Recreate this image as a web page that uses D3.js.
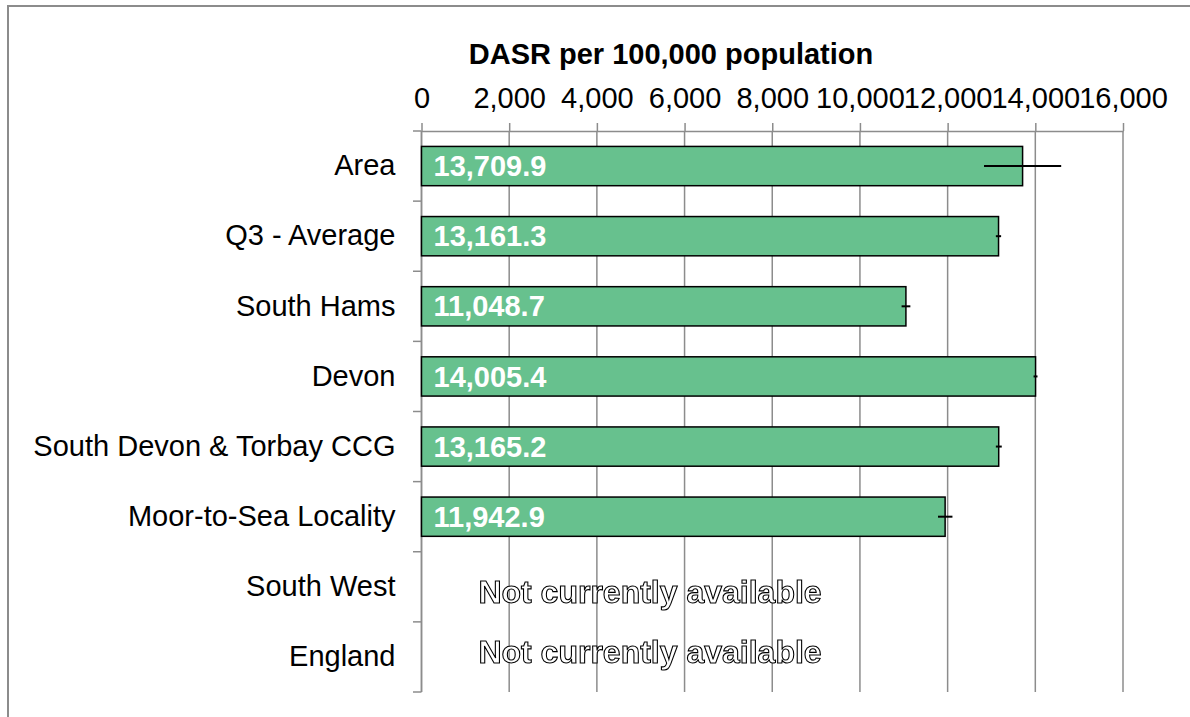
<!DOCTYPE html>
<html>
<head>
<meta charset="utf-8">
<script src="https://cdn.jsdelivr.net/npm/d3@7/dist/d3.min.js"></script>
<style>
  html, body { margin: 0; padding: 0; background: #fff; }
  svg { display: block; font-family: "Liberation Sans", Arial, sans-serif; }
  .outline { filter: grayscale(1); -webkit-font-smoothing: antialiased; }
</style>
</head>
<body>
<svg id="chart" width="1190" height="717"></svg>
<script>
// ---- data ----
const categories = ["Area", "Q3 - Average", "South Hams", "Devon", "South Devon & Torbay CCG", "Moor-to-Sea Locality", "South West", "England"];
const values = [13709.9, 13161.3, 11048.7, 14005.4, 13165.2, 11942.9, null, null];
const lowerCI = [12830, 13100, 10950, 13960, 13100, 11780, null, null];
const upperCI = [14590, 13220, 11150, 14050, 13235, 12110, null, null];
const xTicks = [0, 2000, 4000, 6000, 8000, 10000, 12000, 14000, 16000];
const axisTitle = "DASR per 100,000 population";
const missingText = "Not currently available";

const svg = d3.select("#chart");
const gridColor = "#8c8c8c";

// outer frame (partially visible)
svg.append("path")
  .attr("d", "M8,717 L8,6 L1190,6")
  .attr("fill", "none").attr("stroke", gridColor).attr("stroke-width", 2);

const x = d3.scaleLinear().domain([0, 16000]).range([421.5, 1123]);
const y = d3.scaleBand().domain(categories).range([131, 692]).paddingInner(0.44).paddingOuter(0.22);

// vertical gridlines
svg.append("g").selectAll("line").data(xTicks).join("line")
  .attr("x1", d => x(d)).attr("x2", d => x(d))
  .attr("y1", 131).attr("y2", 692)
  .attr("stroke", gridColor).attr("stroke-width", 1.5);

// top x axis
const xAxis = svg.append("g").attr("transform", "translate(0,131)")
  .call(d3.axisTop(x).tickValues(xTicks).tickFormat(d3.format(",")).tickSize(8).tickPadding(15).tickSizeOuter(0));
xAxis.select(".domain").attr("stroke", gridColor).attr("stroke-width", 1.5);
xAxis.selectAll(".tick line").attr("stroke", gridColor).attr("stroke-width", 1.5);
xAxis.selectAll(".tick text").attr("font-size", 29).attr("fill", "#000")
  .attr("font-family", "'Liberation Sans', Arial, sans-serif");

// axis title
svg.append("text").attr("x", 671).attr("y", 64).attr("text-anchor", "middle")
  .attr("font-size", 29).attr("font-weight", "bold").attr("fill", "#000").text(axisTitle);

// left axis line + boundary ticks
const step = y.step();
const y0 = y.range()[0];
const bounds = d3.range(categories.length + 1).map(i => y0 + i * step);
svg.append("line").attr("x1", x(0)).attr("x2", x(0)).attr("y1", 131).attr("y2", 692)
  .attr("stroke", gridColor).attr("stroke-width", 1.5);
svg.append("g").selectAll("line").data(bounds).join("line")
  .attr("x1", x(0) - 8.5).attr("x2", x(0))
  .attr("y1", d => d).attr("y2", d => d)
  .attr("stroke", gridColor).attr("stroke-width", 1.5);

// category labels
const yAxis = svg.append("g").attr("transform", `translate(${x(0)},0)`)
  .call(d3.axisLeft(y).tickSize(0).tickPadding(26));
yAxis.select(".domain").remove();
yAxis.selectAll(".tick text").attr("font-size", 29).attr("fill", "#000")
  .attr("font-family", "'Liberation Sans', Arial, sans-serif");

// bars
const rows = categories.map((c, i) => ({ c, v: values[i], lo: lowerCI[i], hi: upperCI[i] }));
const present = rows.filter(d => d.v != null);
svg.append("g").selectAll("rect").data(present).join("rect")
  .attr("x", x(0)).attr("y", d => y(d.c))
  .attr("width", d => x(d.v) - x(0)).attr("height", y.bandwidth())
  .attr("fill", "#67c18e").attr("stroke", "#000").attr("stroke-width", 1.5);

// value labels
svg.append("g").selectAll("text").data(present).join("text")
  .attr("x", x(0) + 12).attr("y", d => y(d.c) + y.bandwidth() / 2).attr("dy", "0.35em")
  .attr("font-size", 29).attr("font-weight", "bold").attr("fill", "#fff")
  .text(d => d3.format(",.1f")(d.v));

// error bars
svg.append("g").selectAll("line").data(present).join("line")
  .attr("x1", d => x(d.lo)).attr("x2", d => x(d.hi))
  .attr("y1", d => y(d.c) + y.bandwidth() / 2).attr("y2", d => y(d.c) + y.bandwidth() / 2)
  .attr("stroke", "#000").attr("stroke-width", 2);

// missing labels
const missing = rows.filter(d => d.v == null);
const missingY = [603, 663];
svg.append("g").attr("class", "outline").selectAll("text").data(missing).join("text")
  .attr("x", 650).attr("y", (d, i) => missingY[i])
  .attr("text-anchor", "middle")
  .attr("font-size", 32).attr("font-weight", "bold")
  .attr("fill", "#fff").attr("stroke", "#000").attr("stroke-width", 1.1)
  .text(missingText);
</script>
</body>
</html>
